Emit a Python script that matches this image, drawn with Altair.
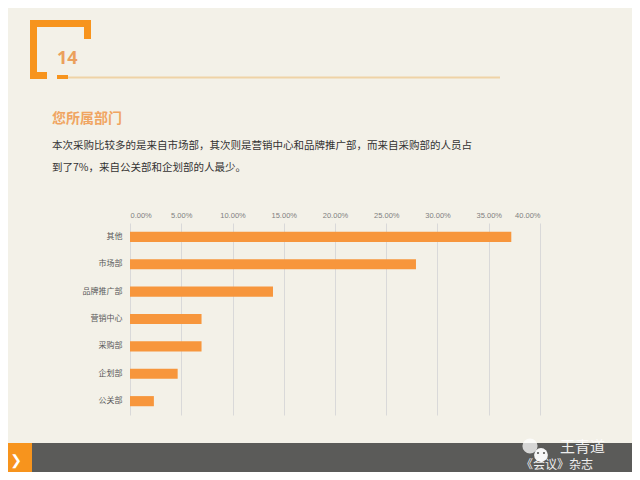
import altair as alt
import pandas as pd

# ---- data ----
departments = ["其他", "市场部", "品牌推广部", "营销中心", "采购部", "企划部", "公关部"]
shares = [0.372, 0.279, 0.1395, 0.0698, 0.0698, 0.0465, 0.0233]
tick_values = [0.0, 0.05, 0.10, 0.15, 0.20, 0.25, 0.30, 0.35, 0.40]

page_number = "14"
section_title = "您所属部门"
body_line1 = "本次采购比较多的是来自市场部，其次则是营销中心和品牌推广部，而来自采购部的人员占"
body_line2 = "到了7%，来自公关部和企划部的人最少。"
watermark1 = "王青道"
watermark2 = "《会议》杂志"

df = pd.DataFrame({"dept": departments, "share": shares})

# plot-area origin in page (screenshot) coordinates
PX, PY = 130, 223
CJK = "Noto Sans CJK SC"
one = pd.DataFrame({"a": [0]})


def rect(x1, y1, x2, y2, color, opacity=1.0):
    return alt.Chart(one).mark_rect(color=color, opacity=opacity).encode(
        x=alt.value(x1 - PX), x2=alt.value(x2 - PX),
        y=alt.value(y1 - PY), y2=alt.value(y2 - PY))


def text(x, y, s, size, color, weight="normal", font=CJK, align="left", opacity=1.0):
    return alt.Chart(one).mark_text(
        align=align, baseline="middle", fontSize=size, color=color,
        fontWeight=weight, font=font, opacity=opacity).encode(
        x=alt.value(x - PX), y=alt.value(y - PY), text=alt.value(s))


def dot(x, y, size, color, opacity=1.0):
    return alt.Chart(one).mark_circle(color=color, opacity=opacity, size=size).encode(
        x=alt.value(x - PX), y=alt.value(y - PY))


ORANGE = "#f7941d"
BAR = "#f7963c"

bars = alt.Chart(df).mark_bar(color=BAR).encode(
    x=alt.X("share:Q",
            scale=alt.Scale(domain=[0, 0.4], nice=False),
            axis=alt.Axis(orient="top", format=".2%", values=tick_values,
                          title=None, ticks=False, domain=False,
                          labelFontSize=7.5, labelColor="#7f7f7f", labelFont="Liberation Sans",
                          labelPadding=4, grid=True, gridColor="#d9d9d9", gridWidth=1)),
    y=alt.Y("dept:N", sort=departments,
            scale=alt.Scale(paddingInner=0.63, paddingOuter=0.32),
            axis=alt.Axis(title=None, ticks=False, domain=False,
                          labelFontSize=8, labelColor="#595959", labelFont=CJK,
                          labelPadding=8)),
)

decor = [
    # header bracket
    rect(30, 20, 91, 27, ORANGE),
    rect(84, 20, 91, 39, ORANGE),
    rect(30, 20, 37, 79, ORANGE),
    rect(30, 72, 47, 79, ORANGE),
    rect(57, 75, 68, 79, ORANGE),
    rect(68, 76.5, 500, 78.5, "#efd3a6"),
    text(57, 59, page_number, 18, "#eba05c", weight="bold", font="Open Sans"),
    text(52, 119, section_title, 14, "#f0a562", weight="bold"),
    text(52, 146, body_line1, 10.5, "#333333"),
    text(52, 168, body_line2, 10.5, "#333333"),
    # footer
    rect(0, 443, 640, 480, "#5b5b59"),
    rect(0, 443, 32, 480, ORANGE),
    text(16, 461, "❯", 14, "white", weight="bold", font="DejaVu Sans", align="center"),
    dot(530, 446, 230, "white", 0.75),
    dot(541, 455, 190, "white", 0.95),
    dot(538, 453, 5, "#5b5b59"),
    dot(544, 453, 5, "#5b5b59"),
    text(560, 447, watermark1, 15, "white", opacity=0.9),
    text(521, 465, watermark2, 12, "white", opacity=0.9),
]

chart = alt.layer(bars, *decor).properties(
    width=410, height=192,
    background="#f3f1e8",
    padding={"left": 122, "top": 215, "right": 92, "bottom": 57},
    autosize=alt.AutoSizeParams(type="none"),
).configure_view(stroke=None)

chart.save("out.html", embed_options={"renderer": "svg", "actions": False})
